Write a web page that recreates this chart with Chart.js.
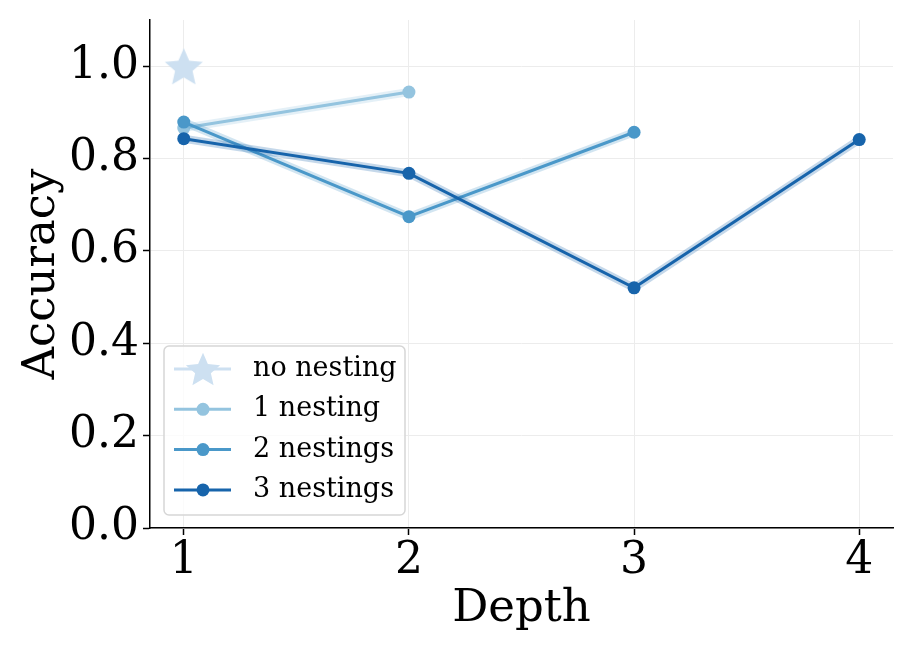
<!DOCTYPE html>
<html>
<head>
<meta charset="utf-8">
<script src="https://cdn.jsdelivr.net/npm/chart.js@4"></script>
<style>
  html, body { margin: 0; padding: 0; background: #fff; }
  #wrap { width: 913px; height: 653px; }
</style>
</head>
<body>
<div id="wrap"><canvas id="chart" width="913" height="653"></canvas></div>
<script>
// Dados
const depthTicks = [1, 2, 3, 4];
const yTicks = [0, 0.2, 0.4, 0.6, 0.8, 1.0];

const seriesNames = ['no nesting', '1 nesting', '2 nestings', '3 nestings'];
const noNestingDepth = [1];
const noNestingAcc = [1.0];
const nest1Depth = [1, 2];
const nest1Acc = [0.866, 0.944];
const nest2Depth = [1, 2, 3];
const nest2Acc = [0.879, 0.674, 0.857];
const nest3Depth = [1, 2, 3, 4];
const nest3Acc = [0.843, 0.768, 0.520, 0.841];

const colors = ['#cde0f1', '#94c4df', '#4a98c9', '#1764ab'];
const SERIF = '"DejaVu Serif", "Liberation Serif", serif';

function toPoints(xs, ys) {
    return xs.map((x, i) => ({ x: x, y: ys[i] }));
}

// Estrela preenchida (o "star" do Chart.js é só linhas)
function makeStar(color, r) {
    const c = document.createElement('canvas');
    c.width = r * 2 + 2;
    c.height = r * 2 + 2;
    const g = c.getContext('2d');
    g.fillStyle = color;
    g.beginPath();
    for (let i = 0; i < 10; i++) {
        const rad = i % 2 === 0 ? r : r * 0.46;
        const a = -Math.PI / 2 + i * Math.PI / 5;
        const px = r + 1 + rad * Math.cos(a);
        const py = r + 1 + rad * Math.sin(a) + r * 0.1;
        if (i === 0) g.moveTo(px, py); else g.lineTo(px, py);
    }
    g.closePath();
    g.fill();
    return c;
}

const bigStar = makeStar(colors[0], 20);
const smallStar = makeStar(colors[0], 18);

function hexAlpha(hex, a) {
    const n = parseInt(hex.slice(1), 16);
    return `rgba(${(n >> 16) & 255}, ${(n >> 8) & 255}, ${n & 255}, ${a})`;
}

const seriesData = [
    toPoints(noNestingDepth, noNestingAcc),
    toPoints(nest1Depth, nest1Acc),
    toPoints(nest2Depth, nest2Acc),
    toPoints(nest3Depth, nest3Acc)
];

const datasets = [];
// sombras (faixa clara por baixo de cada linha)
seriesData.forEach((pts, i) => {
    if (i === 0) return;
    datasets.push({
        label: '_shadow' + i,
        data: pts,
        borderColor: hexAlpha(colors[i], 0.25),
        borderWidth: 8,
        pointRadius: 0,
        fill: false,
        order: 20 - i * 2 + 1
    });
});
seriesData.forEach((pts, i) => {
    datasets.push({
        label: seriesNames[i],
        data: pts,
        borderColor: colors[i],
        backgroundColor: colors[i],
        borderWidth: 3,
        pointRadius: i === 0 ? 20 : 6.5,
        pointStyle: i === 0 ? bigStar : 'circle',
        pointBorderWidth: 0,
        fill: false,
        order: 20 - i * 2
    });
});

// Legenda desenhada dentro da área do gráfico (canto inferior esquerdo)
const insideLegend = {
    id: 'insideLegend',
    afterDraw(chart) {
        const ctx = chart.ctx;
        const area = chart.chartArea;
        const x0 = area.left + 14, w = 241, h = 169;
        const y0 = area.bottom - 13 - h;
        ctx.save();
        ctx.beginPath();
        ctx.roundRect(x0, y0, w, h, 5);
        ctx.fillStyle = 'rgba(255,255,255,0.8)';
        ctx.fill();
        ctx.strokeStyle = '#d6d6d6';
        ctx.lineWidth = 1.5;
        ctx.stroke();
        ctx.font = '27px ' + SERIF;
        ctx.textBaseline = 'middle';
        ctx.textAlign = 'left';
        seriesNames.forEach((name, i) => {
            const yy = y0 + 23 + i * 40.3;
            ctx.strokeStyle = colors[i];
            ctx.lineWidth = 3;
            ctx.beginPath();
            ctx.moveTo(x0 + 10, yy);
            ctx.lineTo(x0 + 67, yy);
            ctx.stroke();
            if (i === 0) {
                ctx.drawImage(smallStar, x0 + 39 - smallStar.width / 2, yy - smallStar.height / 2);
            } else {
                ctx.fillStyle = colors[i];
                ctx.beginPath();
                ctx.arc(x0 + 39, yy, 6.5, 0, Math.PI * 2);
                ctx.fill();
            }
            ctx.fillStyle = '#000';
            ctx.fillText(name, x0 + 89, yy);
        });
        ctx.restore();
    }
};

// Tirar o espaço extra que o Chart.js reserva para os rótulos das pontas
function noOverhang(s) {
    s.paddingTop = 0;
    s.paddingBottom = 0;
    s.paddingLeft = 0;
    s.paddingRight = 0;
}

const ctx = document.getElementById('chart').getContext('2d');
new Chart(ctx, {
    type: 'line',
    data: { datasets: datasets },
    options: {
        responsive: false,
        animation: false,
        layout: { padding: { top: 20, right: 20, left: 0, bottom: 0 } },
        plugins: {
            legend: { display: false },
            tooltip: { enabled: false }
        },
        scales: {
            x: {
                type: 'linear',
                min: 0.85,
                max: 4.15,
                afterBuildTicks: (s) => { s.ticks = depthTicks.map(v => ({ value: v })); },
                afterFit: (s) => { s.height = 125; noOverhang(s); },
                grid: { color: '#ececec', lineWidth: 1, tickColor: '#000', tickLength: 7, tickWidth: 1.5 },
                border: { color: '#000', width: 1.5 },
                ticks: {
                    color: '#000',
                    font: { family: SERIF, size: 44 },
                    padding: 0,
                    maxRotation: 0,
                    callback: (v) => String(v)
                },
                title: {
                    display: true,
                    text: 'Depth',
                    color: '#000',
                    font: { family: SERIF, size: 45 },
                    padding: { top: 0, bottom: 17 }
                }
            },
            y: {
                type: 'linear',
                min: 0,
                max: 1.1,
                afterBuildTicks: (s) => { s.ticks = yTicks.map(v => ({ value: v })); },
                afterFit: (s) => { s.width = 150; noOverhang(s); },
                grid: { color: '#ececec', lineWidth: 1, tickColor: '#000', tickLength: 7, tickWidth: 1.5 },
                border: { color: '#000', width: 1.5 },
                ticks: {
                    color: '#000',
                    font: { family: SERIF, size: 44 },
                    padding: 4,
                    callback: (v) => v.toFixed(1)
                },
                title: {
                    display: true,
                    text: 'Accuracy',
                    color: '#000',
                    font: { family: SERIF, size: 45 },
                    padding: { top: 15, bottom: 0 }
                }
            }
        }
    },
    plugins: [insideLegend]
});
</script>
</body>
</html>
